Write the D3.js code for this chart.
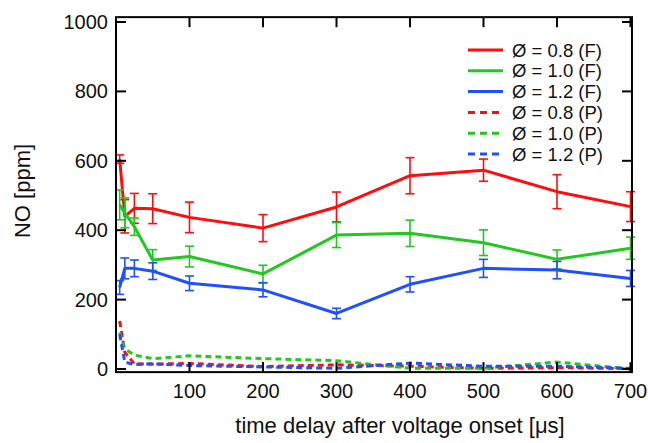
<!DOCTYPE html>
<html><head><meta charset="utf-8">
<script src="https://cdn.jsdelivr.net/npm/d3@7"></script>
<style>
html,body{margin:0;padding:0;background:#fff;}
svg{display:block;font-family:"Liberation Sans",Arial,sans-serif;}
</style></head>
<body>
<script>
// ---- data ----
const times = [5, 12, 25, 50, 100, 200, 300, 400, 500, 600, 700];
const red_F   = [605, 440, 463, 462, 437, 406, 467, 557, 573, 511, 468];
const red_Fe  = [12, 48, 43, 43, 44, 39, 43, 52, 32, 49, 43];
const green_F = [473, 450, 410, 314, 324, 274, 386, 391, 364, 316, 348];
const green_Fe= [43, 43, 25, 30, 30, 25, 36, 38, 37, 27, 32];
const blue_F  = [235, 290, 290, 282, 247, 228, 160, 244, 290, 285, 261];
const blue_Fe = [20, 30, 24, 24, 21, 20, 15, 22, 26, 25, 23];
const red_P   = [138, 48, 15, 14, 16, 7, 12, 8, 2, 4, 1];
const green_P = [105, 58, 40, 30, 38, 30, 24, 2, 2, 20, 0];
const blue_P  = [100, 20, 13, 15, 10, 6, 2, 17, 8, 8, 2];
const xTicks = [100, 200, 300, 400, 500, 600, 700];
const yTicks = [0, 200, 400, 600, 800, 1000];
const legendLabels = ["Ø = 0.8 (F)", "Ø = 1.0 (F)", "Ø = 1.2 (F)", "Ø = 0.8 (P)", "Ø = 1.0 (P)", "Ø = 1.2 (P)"];
const xTitle = "time delay after voltage onset [μs]";
const yTitle = "NO [ppm]";

const RED = "#ff0d0d", GREEN = "#20c820", BLUE = "#1f50ff";

const W = 648, H = 443;
const svg = d3.select("body").append("svg").attr("width", W).attr("height", H);

const x = d3.scaleLinear().domain([0, 700]).range([116, 630.5]);
const y = d3.scaleLinear().domain([0, 1000]).range([369, 22]);
const xMax = 702, yMin = -9, yMax = 1014;

// frame
const fx0 = x(0), fx1 = x(xMax), fy0 = y(yMax), fy1 = y(yMin);

// series
const solid = [
  {v: red_F, e: red_Fe, c: RED},
  {v: green_F, e: green_Fe, c: GREEN},
  {v: blue_F, e: blue_Fe, c: BLUE}
];
const dashed = [
  {v: red_P, c: RED},
  {v: green_P, c: GREEN},
  {v: blue_P, c: BLUE}
];
const line = d3.line().x(d => x(d[0])).y(d => y(d[1]));

dashed.forEach(s => {
  svg.append("path").datum(times.map((t, i) => [t, s.v[i]]))
    .attr("d", line).attr("fill", "none").attr("stroke", s.c)
    .attr("stroke-width", 3).attr("stroke-dasharray", "6,4");
});

solid.forEach(s => {
  svg.append("path").datum(times.map((t, i) => [t, s.v[i]]))
    .attr("d", line).attr("fill", "none").attr("stroke", s.c)
    .attr("stroke-width", 3).attr("stroke-linejoin", "round");
  const g = svg.append("g").attr("stroke", s.c).attr("stroke-width", 1.6).attr("fill", "none");
  times.forEach((t, i) => {
    const cx = x(t), top = y(s.v[i] + s.e[i]), bot = y(s.v[i] - s.e[i]);
    g.append("line").attr("x1", cx).attr("x2", cx).attr("y1", top).attr("y2", bot);
    g.append("line").attr("x1", cx - 4.5).attr("x2", cx + 4.5).attr("y1", top).attr("y2", top);
    g.append("line").attr("x1", cx - 4.5).attr("x2", cx + 4.5).attr("y1", bot).attr("y2", bot);
  });
});

// frame + ticks
const ax = svg.append("g").attr("stroke", "#000").attr("stroke-width", 2);
ax.append("rect").attr("x", fx0).attr("y", fy0).attr("width", fx1 - fx0).attr("height", fy1 - fy0).attr("fill", "none");
const TL = 10;
xTicks.forEach(t => {
  ax.append("line").attr("x1", x(t)).attr("x2", x(t)).attr("y1", fy1).attr("y2", fy1 - TL);
  ax.append("line").attr("x1", x(t)).attr("x2", x(t)).attr("y1", fy0).attr("y2", fy0 + TL);
});
yTicks.forEach(v => {
  ax.append("line").attr("x1", fx0).attr("x2", fx0 + TL).attr("y1", y(v)).attr("y2", y(v));
  ax.append("line").attr("x1", fx1).attr("x2", fx1 - TL).attr("y1", y(v)).attr("y2", y(v));
});

// tick labels
svg.append("g").selectAll("text").data(xTicks).join("text")
  .attr("x", d => x(d)).attr("y", 398).attr("text-anchor", "middle")
  .attr("font-size", 20).attr("fill", "#111").text(d => d);
svg.append("g").selectAll("text").data(yTicks).join("text")
  .attr("x", 108).attr("y", d => y(d) + 7).attr("text-anchor", "end")
  .attr("font-size", 20).attr("fill", "#111").text(d => d);

// titles
svg.append("text").attr("x", 400).attr("y", 433).attr("text-anchor", "middle")
  .attr("font-size", 22).attr("fill", "#111").text(xTitle);
svg.append("text").attr("transform", "translate(30,191) rotate(-90)").attr("text-anchor", "middle")
  .attr("font-size", 22).attr("fill", "#111").text(yTitle);

// legend
const legColors = [RED, GREEN, BLUE, RED, GREEN, BLUE];
const lg = svg.append("g");
legendLabels.forEach((lab, i) => {
  const ly = 50 + i * 20.8;
  const l = lg.append("line").attr("x1", 468).attr("x2", 503).attr("y1", ly).attr("y2", ly)
    .attr("stroke", legColors[i]).attr("stroke-width", 3);
  if (i >= 3) l.attr("stroke-dasharray", "7,5");
  lg.append("text").attr("x", 512).attr("y", ly + 6.5).attr("font-size", 18.5).attr("fill", "#111").text(lab);
});
</script>
</body></html>
